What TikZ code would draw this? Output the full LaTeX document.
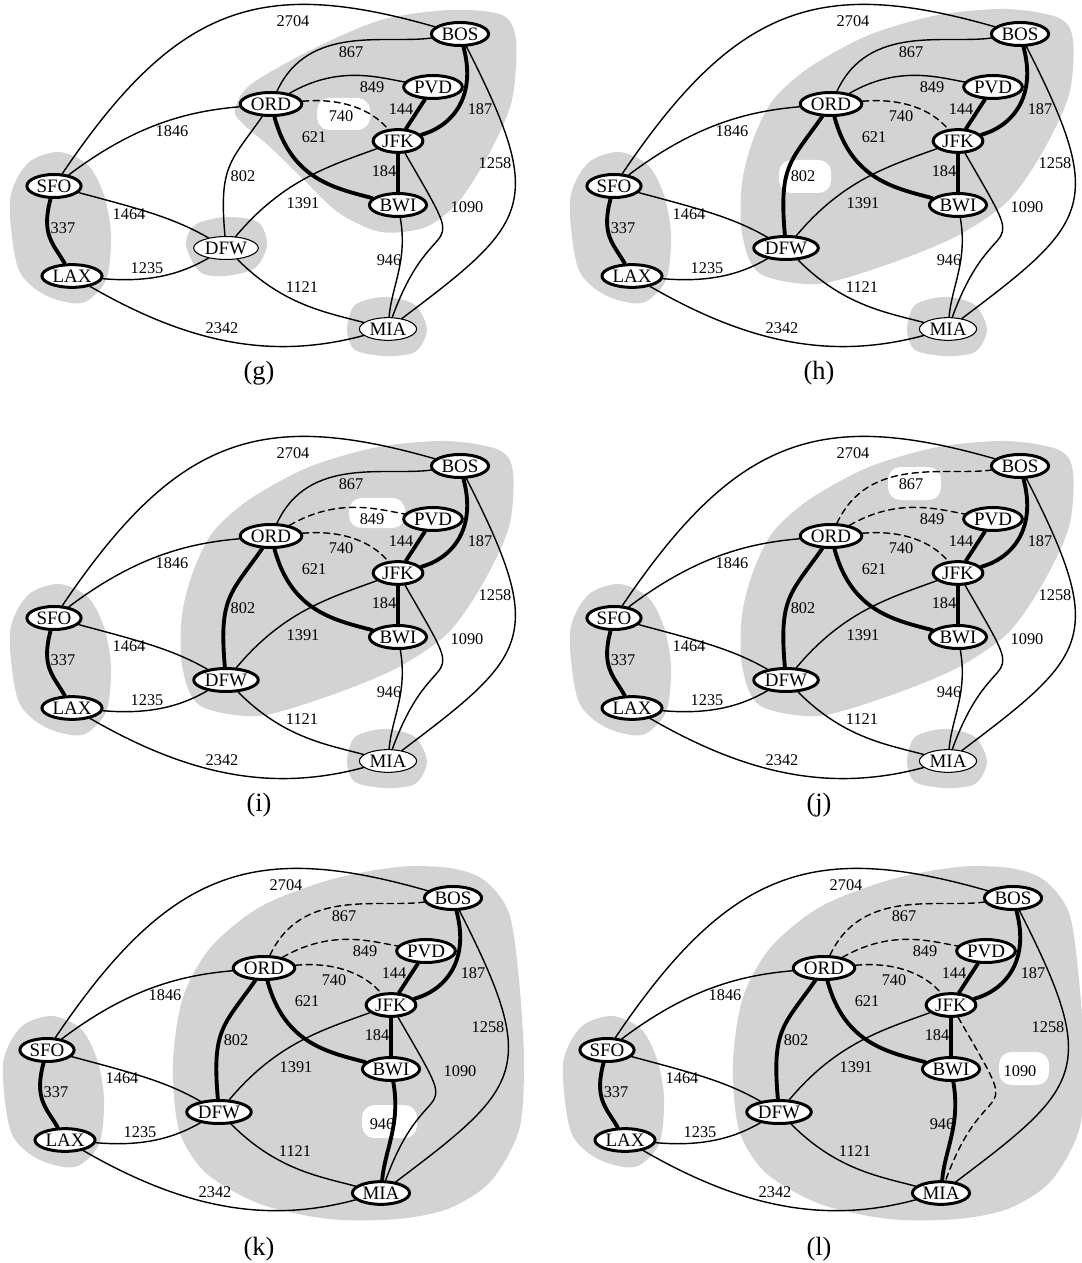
\documentclass[tikz,border=0pt]{standalone}
\usepackage{fontspec}
\setmainfont{Liberation Serif}
\usetikzlibrary{shapes.geometric}

\definecolor{hull}{RGB}{211,211,211}

% clusters
\newcommand{\hullsfolax}{\fill[hull] plot[smooth cycle] coordinates {(10,-200) (28,-163) (59,-152) (88,-165) (104,-195) (111,-235) (106,-280) (82,-303) (45,-295) (18,-268)};}
\newcommand{\hulldfw}{\fill[hull] plot[smooth cycle] coordinates {(186,-245) (195,-225) (225,-217) (258,-222) (267,-245) (255,-268) (225,-276) (200,-272)};}
\newcommand{\hullmia}{\fill[hull] plot[smooth cycle] coordinates {(347,-330) (355,-305) (385,-297) (415,-305) (427,-330) (415,-352) (385,-356) (355,-350)};}
\newcommand{\hulleast}{\fill[hull] plot[smooth cycle] coordinates {(235,-110) (250,-85) (311,-50) (381,-20) (450,-10) (502,-15) (516,-40) (512,-100) (491,-150) (460,-200) (426,-227) (381,-232) (339,-213) (304,-180) (270,-147) (242,-123)};}
\newcommand{\hulleastdfw}{\fill[hull] plot[smooth cycle] coordinates {(182,-233) (199,-273) (257,-284) (326,-265) (395,-237) (447,-202) (482,-153) (509,-95) (513,-40) (499,-18) (447,-9) (378,-15) (309,-35) (250,-67) (213,-100) (193,-140) (182,-183)};}
\newcommand{\hulleastmia}{\fill[hull] plot[smooth cycle] coordinates {(180,-199) (186,-266) (213,-309) (267,-340) (336,-355) (405,-355) (457,-344) (498,-317) (526,-266) (531,-199) (526,-116) (516,-49) (491,-16) (457,-4) (405,-3) (336,-16) (267,-43) (218,-83) (190,-133)};}

\newcommand{\airgraph}{%
  % airports
  \node[city] (sfo) at (54,-186) {SFO};
  \node[city] (lax) at (72,-276) {LAX};
  \node[city,dfwv] (dfw) at (226,-248) {DFW};
  \node[city] (ord) at (271,-104) {ORD};
  \node[city] (bos) at (460,-34) {BOS};
  \node[city] (pvd) at (433,-87) {PVD};
  \node[city] (jfk) at (398,-141) {JFK};
  \node[city] (bwi) at (398,-205) {BWI};
  \node[city,miav] (mia) at (388,-329) {MIA};
  % flights
  \draw[road] (sfo) to[out=56,in=164,looseness=1.25] (bos);
  \draw[road] (sfo) to[out=37,in=185] (ord);
  \draw[road] (sfo) to[out=-15,in=150] (dfw);
  \draw[mst] (sfo) to[out=-105,in=120,looseness=1.2] (lax);
  \draw[road] (lax) to[out=-5,in=-150] (dfw);
  \draw[road] (lax) to[out=-30,in=-165] (mia);
  \draw[e802] (dfw) to[out=95,in=-125,looseness=1.3] (ord);
  \draw[road] (dfw) to[out=50,in=-160] (jfk);
  \draw[road] (dfw) to[out=-45,in=165] (mia);
  \draw[e867] (ord) to[out=65,in=-172] (bos);
  \draw[e849] (ord) to[out=30,in=170] (pvd);
  \draw[cyc] (ord) to[out=5,in=130] (jfk);
  \draw[mst] (ord) to[out=-75,in=165,looseness=1.1] (bwi);
  \draw[mst] (pvd) -- (jfk);
  \draw[mst] (bos) to[out=-75,in=15,looseness=1.2] (jfk);
  \draw[mst] (jfk) -- (bwi);
  \draw[e1090] (jfk) to[out=-60,in=70,looseness=2] (mia);
  \draw[e946] (bwi) to[out=-80,in=85] (mia);
  \draw[road] (bos) to[out=-63,in=37,looseness=1.55] (mia);
  % distances
  \node[wt] (w2704) at (293,-21) {2704};
  \node[wt] (w867) at (351,-52) {867};
  \node[wt] (w849) at (372,-87) {849};
  \node[wt] (w740) at (341,-116) {740};
  \node[wt] (w144) at (401,-109) {144};
  \node[wt] (w187) at (480,-109) {187};
  \node[wt] (w621) at (314,-137) {621};
  \node[wt] (w1258) at (495,-163) {1258};
  \node[wt] (w184) at (384,-171) {184};
  \node[wt] (w1846) at (172,-131) {1846};
  \node[wt] (w802) at (243,-176) {802};
  \node[wt] (w1391) at (303,-203) {1391};
  \node[wt] (w1464) at (129,-214) {1464};
  \node[wt] (w1090) at (467,-207) {1090};
  \node[wt] (w337) at (63,-228) {337};
  \node[wt] (w946) at (389,-260) {946};
  \node[wt] (w1235) at (147,-268) {1235};
  \node[wt] (w1121) at (302,-287) {1121};
  \node[wt] (w2342) at (222,-328) {2342};
}

\begin{document}
\begin{tikzpicture}[
    x=0.02cm,y=0.02cm,
    line cap=round,
    line join=round,
    city/.style={ellipse,draw,fill=white,inner sep=1pt,line width=1.7pt,
      font=\fontsize{10.8}{12}\selectfont},
    plainv/.style={line width=0.6pt},
    dfwv/.style={plainv},
    miav/.style={plainv},
    road/.style={line width=0.8pt},
    mst/.style={line width=2.2pt},
    cyc/.style={line width=0.8pt,dash pattern=on 3.5pt off 2.5pt},
    e802/.style={road},
    e849/.style={road},
    e867/.style={road},
    e946/.style={road},
    e1090/.style={road},
    wt/.style={font=\fontsize{9.3}{10}\selectfont,inner sep=0pt},
    captxt/.style={font=\fontsize{15}{17}\selectfont},
    whitepatch/.style={fill=white,rounded corners=0.25cm},
]
\useasboundingbox (0,0) rectangle (1081,-1263);

% (g)
\begin{scope}[name prefix=g-]
  \hullsfolax \hulldfw \hullmia \hulleast
  \fill[whitepatch] (317,-98) rectangle (370,-130);
  \airgraph
  \node[captxt] (caption) at (259,-373) {(g)};
\end{scope}

% (h)
\begin{scope}[shift={(560,0)},name prefix=h-,
    dfwv/.style={},e802/.style={mst}]
  \hullsfolax \hullmia \hulleastdfw
  \fill[whitepatch] (219,-160) rectangle (271,-193);
  \airgraph
  \node[captxt] (caption) at (259,-373) {(h)};
\end{scope}

% (i)
\begin{scope}[shift={(0,-432)},name prefix=i-,
    dfwv/.style={},e802/.style={mst},e849/.style={cyc}]
  \hullsfolax \hullmia \hulleastdfw
  \fill[whitepatch] (349,-66) rectangle (405,-96);
  \airgraph
  \node[captxt] (caption) at (259,-373) {(i)};
\end{scope}

% (j)
\begin{scope}[shift={(560,-432)},name prefix=j-,
    dfwv/.style={},e802/.style={mst},e849/.style={cyc},e867/.style={cyc}]
  \hullsfolax \hullmia \hulleastdfw
  \fill[whitepatch] (328,-35) rectangle (381,-68);
  \airgraph
  \node[captxt] (caption) at (259,-373) {(j)};
\end{scope}

% (k)
\begin{scope}[shift={(-7,-864)},name prefix=k-,
    dfwv/.style={},miav/.style={},e802/.style={mst},e849/.style={cyc},
    e867/.style={cyc},e946/.style={mst}]
  \hullsfolax \hulleastmia
  \fill[whitepatch] (369,-241) rectangle (424,-274);
  \airgraph
  \node[captxt] (caption) at (266,-385) {(k)};
\end{scope}

% (l)
\begin{scope}[shift={(553,-864)},name prefix=l-,
    dfwv/.style={},miav/.style={},e802/.style={mst},e849/.style={cyc},
    e867/.style={cyc},e946/.style={mst},e1090/.style={cyc}]
  \hullsfolax \hulleastmia
  \fill[whitepatch] (446,-188) rectangle (496,-221);
  \airgraph
  \node[captxt] (caption) at (266,-385) {(l)};
\end{scope}
\end{tikzpicture}
\end{document}
